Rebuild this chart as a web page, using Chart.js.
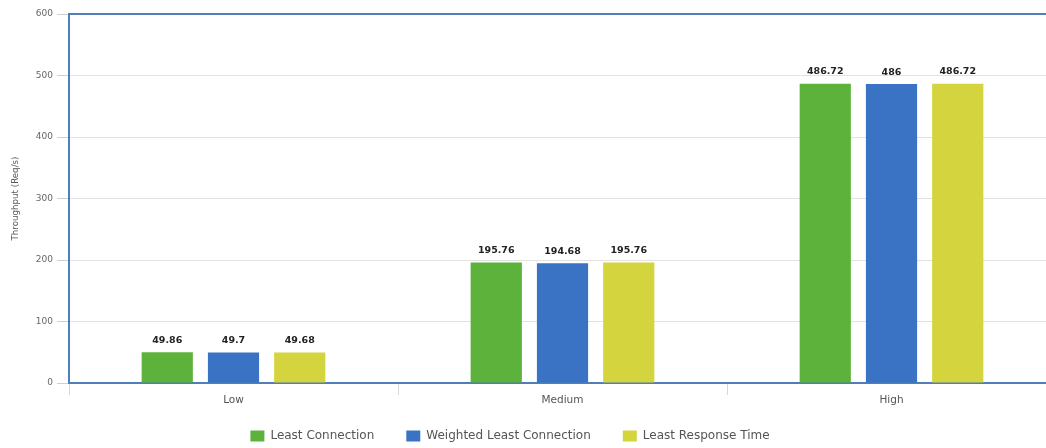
<!DOCTYPE html>
<html>
<head>
<meta charset="utf-8">
<script src="https://cdn.jsdelivr.net/npm/chart.js@4/dist/chart.umd.min.js"></script>
<style>
  html, body { margin: 0; padding: 0; background: #fff; overflow: hidden; }
  #wrap { width: 1056px; height: 448px; }
</style>
</head>
<body>
<div id="wrap"><canvas id="c" width="1056" height="448"></canvas></div>
<script>
// Load levels on the category axis
const categories = ['Low', 'Medium', 'High'];

// Throughput per algorithm (Req/s)
const leastConnection = [49.86, 195.76, 486.72];
const weightedLeastConnection = [49.7, 194.68, 486];
const leastResponseTime = [49.68, 195.76, 486.72];

const seriesNames = ['Least Connection', 'Weighted Least Connection', 'Least Response Time'];
const yTicks = [0, 100, 200, 300, 400, 500, 600];

const AXIS_BLUE = '#4f7fb8';
const FONT = '"DejaVu Sans", Verdana, sans-serif';

// Value labels drawn above each bar
const barValueLabels = {
  id: 'barValueLabels',
  afterDatasetsDraw(chart) {
    const ctx = chart.ctx;
    ctx.save();
    ctx.font = 'bold 9.5px ' + FONT;
    ctx.fillStyle = '#222';
    ctx.textAlign = 'center';
    ctx.textBaseline = 'middle';
    chart.data.datasets.forEach((ds, i) => {
      chart.getDatasetMeta(i).data.forEach((bar, j) => {
        ctx.fillText(String(ds.data[j]), bar.x, bar.y - 12);
      });
    });
    ctx.restore();
  }
};

// Frame line along the top of the plot area
const topFrame = {
  id: 'topFrame',
  afterDraw(chart) {
    const { ctx, chartArea } = chart;
    ctx.save();
    ctx.strokeStyle = AXIS_BLUE;
    ctx.lineWidth = 2;
    ctx.beginPath();
    ctx.moveTo(chartArea.left - 1, chartArea.top);
    ctx.lineTo(chartArea.right, chartArea.top);
    ctx.stroke();
    ctx.restore();
  }
};

// Pull the legend row up closer to the category labels and nudge it left
const legendOffset = {
  id: 'legendOffset',
  beforeDraw(chart) {
    const lg = chart.legend;
    if (lg) {
      lg.top = chart.chartArea.bottom + 15;
      lg.bottom = chart.height;
      lg.left = -18;
      lg.right = chart.width - 18;
    }
  }
};

new Chart(document.getElementById('c'), {
  type: 'bar',
  data: {
    labels: categories,
    datasets: [
      { label: seriesNames[0], data: leastConnection, backgroundColor: '#5cb23b' },
      { label: seriesNames[1], data: weightedLeastConnection, backgroundColor: '#3a72c4' },
      { label: seriesNames[2], data: leastResponseTime, backgroundColor: '#d3d43e' }
    ]
  },
  options: {
    responsive: false,
    devicePixelRatio: 1,
    animation: false,
    layout: { padding: { top: 14, right: 0, left: 0, bottom: 0 } },
    datasets: {
      bar: { categoryPercentage: 0.604, barPercentage: 0.773 }
    },
    scales: {
      x: {
        grid: {
          display: true,
          drawOnChartArea: false,
          drawTicks: true,
          tickLength: 12,
          color: '#d8d8d8',
          offset: true
        },
        border: { color: AXIS_BLUE, width: 2 },
        ticks: { color: '#555', font: { family: FONT, size: 10.5 }, padding: -1 },
        afterFit(scale) { scale.height = 26; }
      },
      y: {
        min: 0,
        max: 600,
        afterBuildTicks(scale) { scale.ticks = yTicks.map(v => ({ value: v })); },
        grid: { color: '#e2e2e2', tickLength: 12, tickColor: '#d0d0d0' },
        border: { color: AXIS_BLUE, width: 2 },
        ticks: { color: '#666', font: { family: FONT, size: 9 }, padding: 4 },
        title: {
          display: true,
          text: 'Throughput (Req/s)',
          color: '#555',
          font: { family: FONT, size: 8.7 },
          padding: { top: 11, bottom: 0 }
        },
        afterFit(scale) { scale.width = 69; }
      }
    },
    plugins: {
      legend: {
        position: 'bottom',
        maxHeight: 39,
        labels: {
          boxWidth: 14,
          boxHeight: 11,
          padding: 32,
          color: '#555',
          font: { family: FONT, size: 12 }
        }
      },
      tooltip: { enabled: false }
    }
  },
  plugins: [barValueLabels, topFrame, legendOffset]
});
</script>
</body>
</html>
